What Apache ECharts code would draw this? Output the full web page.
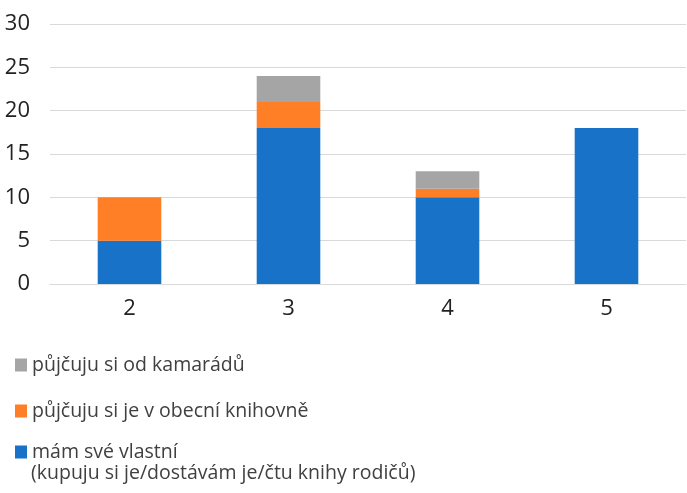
<!DOCTYPE html>
<html><head><meta charset="utf-8">
<script src="https://cdn.jsdelivr.net/npm/echarts@6/dist/echarts.min.js"></script>
<style>html,body{margin:0;padding:0;background:#fff}#c{width:687px;height:493px}</style>
</head><body><div id="c"></div>
<script>
const categories = ['2', '3', '4', '5'];
const ownBooks = [5, 18, 10, 18];
const library = [5, 3, 1, 0];
const friends = [0, 3, 2, 0];
const yTicks = [0, 5, 10, 15, 20, 25, 30];
const seriesNames = ['mám své vlastní', 'půjčuju si je v obecní knihovně', 'půjčuju si od kamarádů'];
const ownNote = '(kupuju si je/dostávám je/čtu knihy rodičů)';

const font = '"Open Sans", "Noto Sans", sans-serif';
const chart = echarts.init(document.getElementById('c'), null, {renderer: 'canvas'});
const legendText = {color: '#404040', fontSize: 19.5, fontFamily: font};
chart.setOption({
  animation: false,
  grid: {left: 50, right: 1, top: 24, bottom: 209},
  xAxis: {
    type: 'category', data: categories,
    axisLine: {lineStyle: {color: '#d9d9d9', width: 1}},
    axisTick: {show: false},
    axisLabel: {color: '#222', fontSize: 22, fontFamily: font, margin: 14}
  },
  yAxis: {
    type: 'value', min: yTicks[0], max: yTicks[yTicks.length - 1], interval: 5,
    axisLine: {show: false}, axisTick: {show: false},
    splitLine: {lineStyle: {color: '#d9d9d9', width: 1}},
    axisLabel: {color: '#222', fontSize: 22, fontFamily: font, margin: 20}
  },
  legend: [
    {data: [seriesNames[2]], orient: 'vertical', left: 10, top: 350, itemWidth: 12, itemHeight: 13, icon: 'rect', textStyle: legendText},
    {data: [seriesNames[1]], orient: 'vertical', left: 10, top: 396, itemWidth: 12, itemHeight: 13, icon: 'rect', textStyle: legendText},
    {data: [seriesNames[0]], orient: 'vertical', left: 10, top: 437, itemWidth: 12, itemHeight: 13, icon: 'rect', textStyle: legendText}
  ],
  graphic: [{
    type: 'text', left: 31, top: 463,
    style: {text: ownNote, fill: '#404040', fontSize: 19.5, fontFamily: font}
  }],
  series: [
    {name: seriesNames[0], type: 'bar', stack: 's', data: ownBooks, barWidth: '40%', itemStyle: {color: '#1872c8'}},
    {name: seriesNames[1], type: 'bar', stack: 's', data: library, itemStyle: {color: '#ff7f27'}},
    {name: seriesNames[2], type: 'bar', stack: 's', data: friends, itemStyle: {color: '#a5a5a5'}}
  ]
});
</script></body></html>
